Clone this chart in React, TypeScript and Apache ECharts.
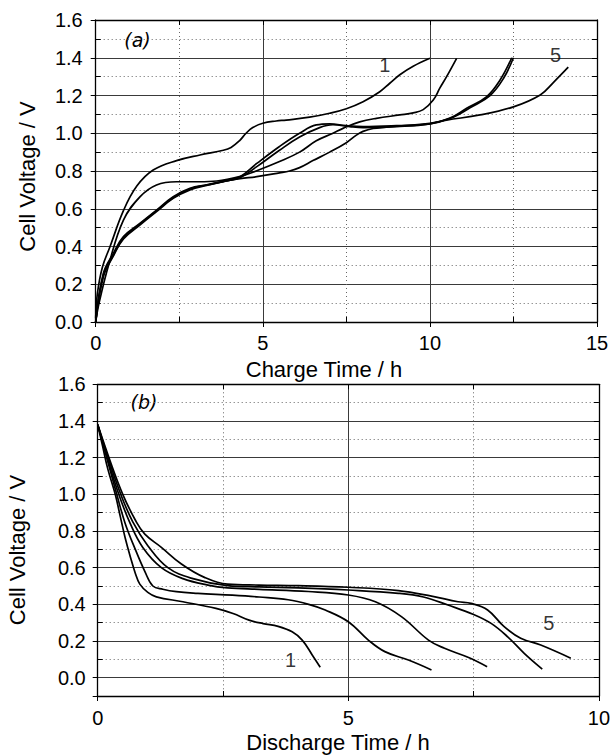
import React, { useEffect, useRef } from "react";
import * as echarts from "echarts";

// ---------- (a) charge curves: [time h, voltage V] ----------
const chargeCycle1: [number, number][] = [
  [0, 0.02], [0.05, 0.15], [0.2, 0.29], [0.43, 0.4], [0.83, 0.59], [1.23, 0.72], [1.72, 0.805],
  [2.42, 0.855], [3.12, 0.885], [3.82, 0.91], [4.05, 0.925], [4.3, 0.96], [4.5, 1.0],
  [4.7, 1.03], [5.0, 1.053], [5.4, 1.065], [5.7, 1.07], [6.4, 1.085], [7.0, 1.106],
  [7.5, 1.13], [8.0, 1.167], [8.5, 1.22], [8.8, 1.265], [9.1, 1.31], [9.5, 1.355], [10.0, 1.397],
];
const chargeCycle2: [number, number][] = [
  [0, 0.0], [0.1, 0.1], [0.4, 0.31], [0.83, 0.54], [1.33, 0.664], [1.82, 0.726], [2.42, 0.743],
  [3.1, 0.743], [3.62, 0.747], [4.3, 0.77], [4.8, 0.8], [5.5, 0.85], [6.1, 0.9], [6.6, 0.96],
  [7.1, 1.0], [7.4, 1.026], [7.9, 1.06], [8.4, 1.079], [9.1, 1.097], [9.5, 1.108], [9.8, 1.125],
  [10.1, 1.176], [10.3, 1.24], [10.5, 1.3], [10.8, 1.397],
];
const chargeCycle3: [number, number][] = [
  [0, 0.0], [0.23, 0.258], [0.53, 0.364], [0.83, 0.452], [1.33, 0.523], [1.82, 0.593],
  [2.32, 0.664], [2.82, 0.708], [3.32, 0.726], [3.82, 0.743], [4.32, 0.77], [4.82, 0.84],
  [5.5, 0.93], [6.1, 1.0], [6.6, 1.044], [7.0, 1.05], [7.5, 1.04], [8.0, 1.035], [9.0, 1.04],
  [10.0, 1.05], [10.6, 1.08], [11.1, 1.132], [11.7, 1.194], [12.1, 1.282], [12.45, 1.4],
];
const chargeCycle4: [number, number][] = [
  [0, 0.0], [0.23, 0.24], [0.53, 0.35], [0.83, 0.44], [1.33, 0.515], [1.82, 0.585],
  [2.32, 0.655], [2.82, 0.7], [3.32, 0.724], [3.82, 0.745], [4.32, 0.765], [4.82, 0.823],
  [5.5, 0.91], [6.1, 0.98], [6.7, 1.03], [7.1, 1.045], [7.6, 1.035], [8.0, 1.03], [9.0, 1.035],
  [10.0, 1.05], [10.7, 1.085], [11.2, 1.135], [11.8, 1.2], [12.2, 1.29], [12.5, 1.4],
];
const chargeCycle5: [number, number][] = [
  [0, 0.0], [0.23, 0.25], [0.53, 0.355], [0.83, 0.445], [1.33, 0.52], [1.82, 0.59],
  [2.32, 0.66], [2.82, 0.705], [3.32, 0.727], [3.82, 0.745], [4.32, 0.76], [4.82, 0.77],
  [5.5, 0.79], [5.8, 0.8], [6.1, 0.818], [6.5, 0.855], [7.0, 0.9], [7.5, 0.95], [7.8, 0.99],
  [8.0, 1.01], [8.3, 1.025], [8.7, 1.032], [9.0, 1.037], [10.0, 1.053], [10.5, 1.07],
  [11.5, 1.097], [12.5, 1.14], [13.3, 1.203], [13.7, 1.27], [14.14, 1.35],
];

// ---------- (b) discharge curves ----------
const dischargeCycle1: [number, number][] = [
  [0, 1.38], [0.1, 1.26], [0.2, 1.14], [0.35, 1.0], [0.45, 0.88], [0.55, 0.76], [0.65, 0.66],
  [0.75, 0.57], [0.84, 0.51], [1.0, 0.465], [1.17, 0.441], [1.7, 0.414], [2.36, 0.378],
  [2.7, 0.35], [3.02, 0.314], [3.3, 0.295], [3.6, 0.28], [3.88, 0.25], [4.08, 0.205],
  [4.28, 0.124], [4.44, 0.057],
];
const dischargeCycle2: [number, number][] = [
  [0, 1.38], [0.2, 1.18], [0.38, 1.0], [0.55, 0.84], [0.75, 0.7], [0.94, 0.58], [1.1, 0.5],
  [1.3, 0.482], [1.57, 0.469], [2.0, 0.46], [2.69, 0.45], [3.22, 0.44], [3.8, 0.425],
  [4.21, 0.4], [4.54, 0.369], [5.0, 0.305], [5.4, 0.205], [5.73, 0.142], [6.2, 0.096],
  [6.66, 0.042],
];
const dischargeCycle3: [number, number][] = [
  [0, 1.38], [0.2, 1.19], [0.42, 1.0], [0.65, 0.84], [0.9, 0.71], [1.27, 0.6], [1.7, 0.54],
  [2.2, 0.505], [2.59, 0.49], [3.22, 0.482], [4.2, 0.47], [5.0, 0.451], [5.54, 0.414],
  [6.06, 0.333], [6.6, 0.205], [6.92, 0.16], [7.4, 0.11], [7.77, 0.06],
];
const dischargeCycle4: [number, number][] = [
  [0, 1.38], [0.22, 1.19], [0.46, 1.0], [0.7, 0.85], [1.0, 0.72], [1.4, 0.6], [1.9, 0.54],
  [2.59, 0.502], [3.22, 0.495], [4.0, 0.49], [5.0, 0.478], [6.0, 0.46], [6.5, 0.44],
  [6.99, 0.396], [7.5, 0.345], [7.85, 0.296], [8.18, 0.223], [8.51, 0.133], [8.87, 0.047],
];
const dischargeCycle5: [number, number][] = [
  [0, 1.38], [0.25, 1.18], [0.5, 1.0], [0.75, 0.86], [0.94, 0.783], [1.27, 0.711],
  [1.67, 0.62], [2.13, 0.547], [2.59, 0.51], [3.22, 0.505], [4.0, 0.502], [5.0, 0.493],
  [6.0, 0.475], [6.66, 0.445], [7.19, 0.414], [7.45, 0.405], [7.78, 0.369], [8.11, 0.278],
  [8.44, 0.215], [8.84, 0.178], [9.44, 0.106],
];

// cycle number annotations (placed in data coordinates)
const chargeCycleLabels = [
  { name: "1", value: [8.65, 1.36] },
  { name: "5", value: [13.76, 1.415] },
];
const dischargeCycleLabels = [
  { name: "1", value: [3.85, 0.097] },
  { name: "5", value: [9.0, 0.296] },
];

// axis ranges
const chargeX = { min: 0, max: 15, interval: 5 };
const chargeY = { min: 0, max: 1.6, interval: 0.2 };
const dischargeX = { min: 0, max: 10, interval: 5 };
const dischargeY = { min: -0.1, max: 1.6, splitNumber: 8 };
const dischargeYFine = { min: -0.1, max: 1.6, interval: 0.1 };

const chargeSeries = [chargeCycle1, chargeCycle2, chargeCycle3, chargeCycle4, chargeCycle5];
const dischargeSeries = [dischargeCycle1, dischargeCycle2, dischargeCycle3, dischargeCycle4, dischargeCycle5];

const FONT = "'Liberation Sans', Arial, sans-serif";

export default function App() {
  const ref = useRef<HTMLDivElement>(null);

  useEffect(() => {
    if (!ref.current) return;
    const chart = echarts.init(ref.current, undefined, { renderer: "svg" });

    const axisLine = { show: true, onZero: false, lineStyle: { color: "#000", width: 1.3 } };
    const majorSplit = { show: true, lineStyle: { color: "#3a3a3a", width: 1, type: "solid" } };
    const minorSplit = { show: true, lineStyle: { color: "#666", width: 1, type: [1, 3] } };
    const tickStyle = { color: "#000", width: 1 };
    const label = (margin: number) => ({
      show: true,
      margin,
      color: "#000",
      fontSize: 20,
      fontFamily: FONT,
    });

    const mainX = (gridIndex: number, r: any, margin: number) => ({
      type: "value",
      gridIndex,
      position: "bottom",
      ...r,
      axisLine,
      axisTick: { show: true, inside: false, length: 5, lineStyle: tickStyle },
      minorTick: { show: true, splitNumber: 2, length: -5, lineStyle: tickStyle },
      axisLabel: label(margin),
      splitLine: majorSplit,
      minorSplitLine: minorSplit,
    });
    const topX = (gridIndex: number, r: any) => ({
      type: "value",
      gridIndex,
      position: "top",
      ...r,
      axisLine,
      axisTick: { show: true, inside: true, length: 5, lineStyle: tickStyle },
      minorTick: { show: true, splitNumber: 2, length: 5, lineStyle: tickStyle },
      axisLabel: { show: false },
      splitLine: { show: false },
    });

    const titleStyle = { fontSize: 22, fontFamily: FONT, fill: "#000" };
    const curveStyle = { color: "#000", width: 1.7 };
    const numberLabel = {
      show: true,
      position: "inside",
      formatter: (p: any) => p.name,
      color: "#000",
      fontSize: 20,
      fontFamily: FONT,
    };

    const option: any = {
      animation: false,
      backgroundColor: "#fff",
      grid: [
        { left: 95.7, top: 20, width: 501.3, height: 302 },
        { left: 97.7, top: 384.3, width: 504, height: 311.7 },
      ],
      xAxis: [
        mainX(0, chargeX, 11),
        topX(0, chargeX),
        mainX(1, dischargeX, 12),
        topX(1, dischargeX),
      ],
      yAxis: [
        {
          type: "value",
          gridIndex: 0,
          position: "left",
          ...chargeY,
          axisLine,
          axisTick: { show: true, inside: false, length: 5, lineStyle: tickStyle },
          minorTick: { show: true, splitNumber: 2, length: -5, lineStyle: tickStyle },
          axisLabel: { ...label(13), formatter: (v: number) => v.toFixed(1) },
          splitLine: majorSplit,
          minorSplitLine: minorSplit,
        },
        {
          type: "value",
          gridIndex: 0,
          position: "right",
          ...chargeY,
          axisLine,
          axisTick: { show: true, inside: true, length: 5, lineStyle: tickStyle },
          minorTick: { show: true, splitNumber: 2, length: 5, lineStyle: tickStyle },
          axisLabel: { show: false },
          splitLine: { show: false },
        },
        {
          type: "value",
          gridIndex: 1,
          position: "left",
          ...dischargeY,
          axisLine,
          axisTick: { show: true, inside: false, length: 5, lineStyle: tickStyle },
          minorTick: { show: true, splitNumber: 2, length: -5, lineStyle: tickStyle },
          axisLabel: {
            ...label(12),
            showMinLabel: false,
            formatter: (v: number) => (v < -0.05 ? "" : v.toFixed(1)),
          },
          splitLine: majorSplit,
        },
        {
          // dotted lines at odd tenths and inward ticks on the right frame
          type: "value",
          gridIndex: 1,
          position: "right",
          ...dischargeYFine,
          axisLine,
          axisTick: { show: true, inside: true, length: 5, lineStyle: tickStyle },
          axisLabel: { show: false },
          splitLine: {
            show: true,
            lineStyle: { color: ["#666", "rgba(0,0,0,0)"], width: 1, type: [1, 3] },
          },
        },
      ],
      series: [
        ...chargeSeries.map((d, i) => ({
          type: "line",
          name: `charge ${i + 1}`,
          xAxisIndex: 0,
          yAxisIndex: 0,
          data: d,
          showSymbol: false,
          smooth: 0.4,
          lineStyle: curveStyle,
          z: 5,
        })),
        ...dischargeSeries.map((d, i) => ({
          type: "line",
          name: `discharge ${i + 1}`,
          xAxisIndex: 2,
          yAxisIndex: 2,
          data: d,
          showSymbol: false,
          smooth: 0.4,
          lineStyle: curveStyle,
          z: 5,
        })),
        {
          type: "scatter",
          xAxisIndex: 0,
          yAxisIndex: 0,
          symbolSize: 0,
          data: chargeCycleLabels,
          label: numberLabel,
          z: 6,
        },
        {
          type: "scatter",
          xAxisIndex: 2,
          yAxisIndex: 2,
          symbolSize: 0,
          data: dischargeCycleLabels,
          label: numberLabel,
          z: 6,
        },
      ],
      graphic: [
        {
          type: "text",
          x: 324,
          y: 358,
          style: { text: "Charge Time / h", ...titleStyle, align: "center", verticalAlign: "top" },
        },
        {
          type: "text",
          x: 338,
          y: 731,
          style: { text: "Discharge Time / h", ...titleStyle, align: "center", verticalAlign: "top" },
        },
        {
          type: "text",
          x: 27.5,
          y: 176.5,
          rotation: Math.PI / 2,
          style: { text: "Cell Voltage / V", ...titleStyle, align: "center", verticalAlign: "middle" },
        },
        {
          type: "text",
          x: 17,
          y: 550,
          rotation: Math.PI / 2,
          style: { text: "Cell Voltage / V", ...titleStyle, align: "center", verticalAlign: "middle" },
        },
        {
          type: "text",
          x: 137.5,
          y: 40,
          style: { text: "(a)", fontSize: 19, fontStyle: "italic", fontFamily: "'DejaVu Sans', sans-serif", fill: "#000", align: "center", verticalAlign: "middle" },
        },
        {
          type: "text",
          x: 144,
          y: 402,
          style: { text: "(b)", fontSize: 19, fontStyle: "italic", fontFamily: "'DejaVu Sans', sans-serif", fill: "#000", align: "center", verticalAlign: "middle" },
        },
      ],
    };

    chart.setOption(option);
    return () => chart.dispose();
  }, []);

  return (
    <div
      ref={ref}
      style={{ position: "fixed", left: 0, top: 0, width: 613, height: 756, background: "#fff" }}
    />
  );
}
